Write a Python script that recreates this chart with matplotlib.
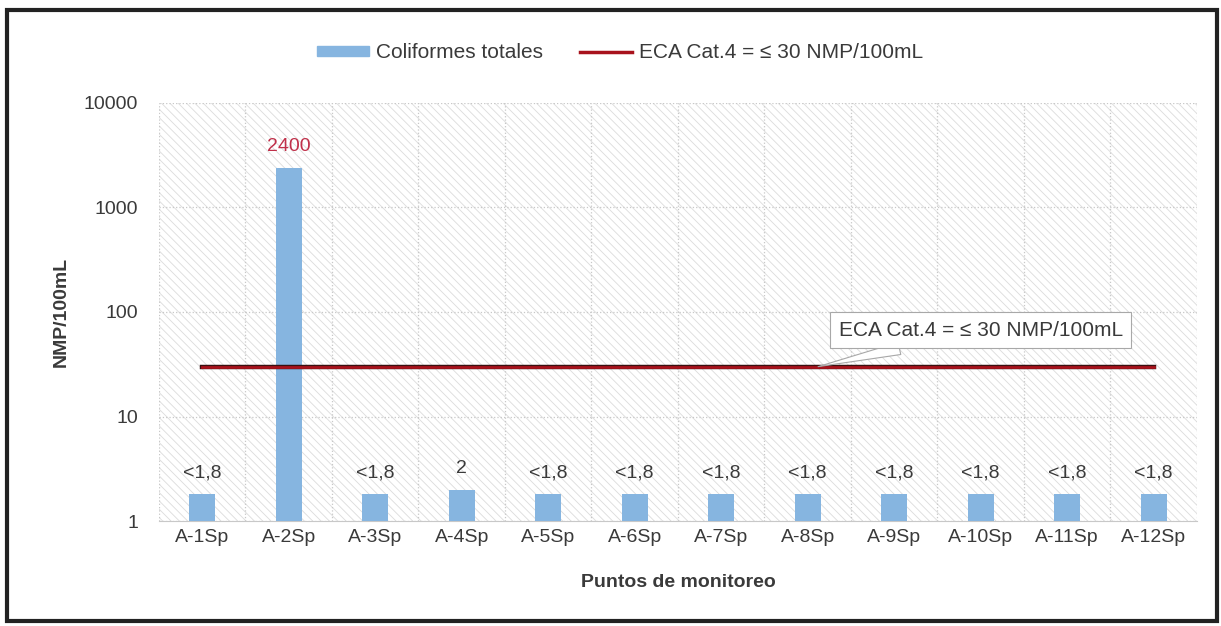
import matplotlib
matplotlib.use("Agg")
import matplotlib.pyplot as plt
from matplotlib.patches import Rectangle
from matplotlib.lines import Line2D
from matplotlib.ticker import FixedLocator, NullFormatter
import numpy as np

plt.rcParams['font.family'] = ['Liberation Sans', 'DejaVu Sans']
plt.rcParams['hatch.linewidth'] = 0.6

# datos
puntos = ['A-1Sp', 'A-2Sp', 'A-3Sp', 'A-4Sp', 'A-5Sp', 'A-6Sp',
          'A-7Sp', 'A-8Sp', 'A-9Sp', 'A-10Sp', 'A-11Sp', 'A-12Sp']
coliformes = [1.8, 2400, 1.8, 2, 1.8, 1.8, 1.8, 1.8, 1.8, 1.8, 1.8, 1.8]
etiquetas = ['<1,8', '2400', '<1,8', '2', '<1,8', '<1,8',
             '<1,8', '<1,8', '<1,8', '<1,8', '<1,8', '<1,8']
eca_limite = 30
eca_texto = 'ECA Cat.4 = ≤ 30 NMP/100mL'

color_barra = '#86b5e0'
color_linea = '#a8121c'
color_texto = '#3a3a3a'

fig = plt.figure(figsize=(12.21, 6.26), dpi=100)
ax = fig.add_axes([0.1302, 0.1677, 0.8501, 0.6678])

x = np.arange(len(puntos))

# fondo rayado
ax.add_patch(Rectangle((0, 0), 1, 1, transform=ax.transAxes, facecolor='white',
                       edgecolor='#dcdcdc', hatch='\\\\\\\\', lw=0, zorder=0))

ax.bar(x, coliformes, width=0.3, color=color_barra, zorder=3)
ax.plot(x, [eca_limite] * len(x), color='#3a1010', lw=3.2, zorder=4)
ax.plot(x, [eca_limite] * len(x), color=color_linea, lw=2.0, zorder=4)

# etiquetas de valores
for xi, val, txt in zip(x, coliformes, etiquetas):
    c = '#c0304a' if val > 100 else color_texto
    ax.annotate(txt, (xi, val), xytext=(0, 9), textcoords='offset points',
                ha='center', va='bottom', fontsize=14, color=c, zorder=5)

ax.set_yscale('log')
ax.set_ylim(1, 10000)
ax.set_xlim(-0.5, len(puntos) - 0.5)
ax.yaxis.set_major_locator(FixedLocator([1, 10, 100, 1000, 10000]))
ax.yaxis.set_minor_locator(FixedLocator([]))
ax.yaxis.set_minor_formatter(NullFormatter())
ax.set_yticklabels(['1', '10', '100', '1000', '10000'])
ax.set_xticks(x)
ax.set_xticklabels(puntos)
ax.xaxis.set_minor_locator(FixedLocator(np.arange(-0.5, len(puntos), 1)))
ax.tick_params(axis='both', which='both', length=0, labelsize=14,
               labelcolor=color_texto)
ax.tick_params(axis='y', pad=15)
ax.tick_params(axis='x', pad=6)

ax.grid(True, axis='y', which='major', color='#c8c8c8', ls=':', lw=0.9, zorder=1)
ax.grid(True, axis='x', which='minor', color='#c8c8c8', ls=':', lw=0.9, zorder=1)
for s in ['top', 'right', 'left']:
    ax.spines[s].set_visible(False)
ax.spines['bottom'].set_color('#c8c8c8')

ax.set_ylabel('NMP/100mL', fontsize=14, fontweight='bold', color=color_texto,
              labelpad=10)
ax.set_xlabel('Puntos de monitoreo', fontsize=14, fontweight='bold',
              color=color_texto, labelpad=20)

# llamada del ECA
ax.annotate(eca_texto, xy=(7.12, eca_limite), xytext=(9.0, 67),
            ha='center', va='center', fontsize=15, color=color_texto, zorder=6,
            bbox=dict(boxstyle='square,pad=0.4', fc='white', ec='#a8a8a8', lw=0.8),
            arrowprops=dict(arrowstyle='wedge,tail_width=0.6', fc='white',
                            ec='#a8a8a8', lw=0.8, shrinkA=0, shrinkB=0))

# leyenda
handles = [Rectangle((0, 0), 1, 1, color=color_barra),
           Line2D([], [], color=color_linea, lw=2.5)]
leg = fig.legend(handles, ['Coliformes totales', eca_texto], loc='center',
                 bbox_to_anchor=(620 / 1221, 1 - 53 / 626), ncol=2, frameon=False,
                 fontsize=15, handlelength=2.5, handleheight=0.35,
                 handletextpad=0.3, columnspacing=1.8)
for t in leg.get_texts():
    t.set_color(color_texto)

# marco exterior
fig.add_artist(Rectangle((7 / 1221, 5 / 626), 1210 / 1221, 611 / 626,
                         transform=fig.transFigure, fill=False,
                         ec='#222222', lw=3))

fig.savefig('out.png', dpi=100, facecolor='white')
